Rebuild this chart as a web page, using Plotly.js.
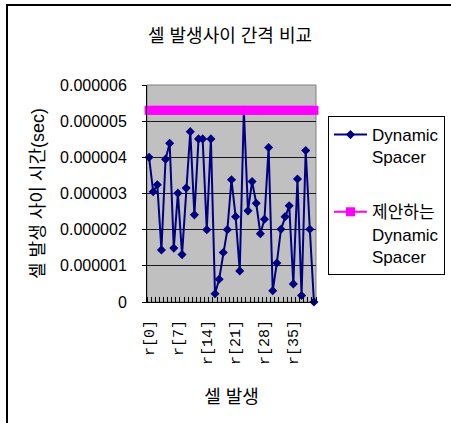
<!DOCTYPE html>
<html>
<head>
<meta charset="utf-8">
<script src="https://cdn.plot.ly/plotly-3.0.1.min.js"></script>
<style>
  html, body { margin: 0; padding: 0; background: #fff; }
  #wrap { position: relative; width: 451px; height: 423px; overflow: hidden; }
  #frame { position: absolute; left: 6px; top: 4px; width: 460px; height: 440px;
           border-left: 2px solid #000; border-top: 2px solid #000; pointer-events: none; z-index: 5; }
  #chart { position: absolute; left: 0; top: 0; width: 451px; height: 423px; }
</style>
</head>
<body>
<div id="wrap">
  <div id="chart"></div>
  <div id="frame"></div>
</div>
<script>
// ---- data ----
const categories = ['r[0]','r[1]','r[2]','r[3]','r[4]','r[5]','r[6]','r[7]','r[8]','r[9]',
  'r[10]','r[11]','r[12]','r[13]','r[14]','r[15]','r[16]','r[17]','r[18]','r[19]',
  'r[20]','r[21]','r[22]','r[23]','r[24]','r[25]','r[26]','r[27]','r[28]','r[29]',
  'r[30]','r[31]','r[32]','r[33]','r[34]','r[35]','r[36]','r[37]','r[38]','r[39]','r[40]'];

const dynamicSpacer = [4.0e-6, 3.05e-6, 3.24e-6, 1.44e-6, 3.95e-6, 4.39e-6, 1.49e-6, 3.01e-6, 1.31e-6, 3.15e-6,
  4.71e-6, 2.41e-6, 4.51e-6, 4.51e-6, 2.0e-6, 4.51e-6, 0.23e-6, 0.63e-6, 1.37e-6, 2.0e-6,
  3.38e-6, 2.36e-6, 0.86e-6, 5.3e-6, 2.52e-6, 3.33e-6, 2.73e-6, 1.89e-6, 2.29e-6, 4.27e-6,
  0.31e-6, 1.08e-6, 2.01e-6, 2.36e-6, 2.66e-6, 0.50e-6, 3.40e-6, 0.18e-6, 4.19e-6, 2.01e-6, 0.0];

const proposedSpacer = [5.3e-6, 5.3e-6, 5.3e-6, 5.3e-6, 5.3e-6, 5.3e-6, 5.3e-6, 5.3e-6, 5.3e-6, 5.3e-6,
  5.3e-6, 5.3e-6, 5.3e-6, 5.3e-6, 5.3e-6, 5.3e-6, 5.3e-6, 5.3e-6, 5.3e-6, 5.3e-6,
  5.3e-6, 5.3e-6, 5.3e-6, 5.3e-6, 5.3e-6, 5.3e-6, 5.3e-6, 5.3e-6, 5.3e-6, 5.3e-6,
  5.3e-6, 5.3e-6, 5.3e-6, 5.3e-6, 5.3e-6, 5.3e-6, 5.3e-6, 5.3e-6, 5.3e-6, 5.3e-6, 5.3e-6];

const xTickCategories = ['r[0]','r[7]','r[14]','r[21]','r[28]','r[35]'];
const yTickVals = [0, 1e-6, 2e-6, 3e-6, 4e-6, 5e-6, 6e-6];
const yTickText = ['0','0.000001','0.000002','0.000003','0.000004','0.000005','0.000006'];

const seriesNames = ['Dynamic<br>Spacer', '제안하는<br>Dynamic<br>Spacer'];
const chartTitle = '셀 발생사이 간격 비교';
const xTitle = '셀 발생';
const yTitle = '셀 발생 사이 시간(sec)';

// ---- build ----
const idx = categories.map((c, i) => i);
const xTickVals = xTickCategories.map(c => categories.indexOf(c));
const FONT = 'Liberation Sans, Arial, "Noto Sans CJK KR", sans-serif';

const traces = [
  {
    x: idx, y: dynamicSpacer, name: seriesNames[0], type: 'scatter', mode: 'lines+markers',
    text: categories, hoverinfo: 'text+y',
    line: { color: '#000080', width: 2 },
    marker: { symbol: 'diamond', size: 7, color: '#000080' },
    cliponaxis: false, legendgroup: 'a'
  },
  {
    x: idx, y: proposedSpacer, name: seriesNames[1], type: 'scatter', mode: 'lines+markers',
    text: categories, hoverinfo: 'text+y',
    line: { color: '#FF00FF', width: 2 },
    marker: { symbol: 'square', size: 9, color: '#FF00FF' },
    cliponaxis: false, legendgroup: 'b'
  }
];

const layout = {
  width: 451, height: 423, autosize: false,
  margin: { l: 147, r: 135, t: 85, b: 121, autoexpand: false },
  paper_bgcolor: '#ffffff',
  plot_bgcolor: '#C0C0C0',
  font: { family: FONT, size: 16, color: '#000' },
  showlegend: true,
  title: {
    text: chartTitle, font: { family: FONT, size: 18, color: '#000' },
    x: 0.51, xref: 'container', xanchor: 'center',
    y: 1 - 36 / 423, yref: 'container', yanchor: 'middle'
  },
  xaxis: {
    type: 'linear', range: [-0.5, 40.5], fixedrange: true,
    tickmode: 'array', tickvals: xTickVals, ticktext: xTickCategories,
    tickangle: -90, ticks: '', ticklabelstandoff: 11,
    tickfont: { family: 'Liberation Mono, DejaVu Sans Mono, monospace', size: 15, color: '#000' },
    showgrid: false, zeroline: false,
    showline: true, linecolor: '#000', linewidth: 1,
    minor: { tickmode: 'linear', tick0: -0.5, dtick: 1, ticks: 'inside', ticklen: 5, tickcolor: '#000', tickwidth: 1, showgrid: false },
    title: { text: xTitle, font: { family: FONT, size: 18, color: '#000' }, standoff: 26 },
    automargin: false
  },
  yaxis: {
    range: [0, 6e-6], fixedrange: true,
    tickmode: 'array', tickvals: yTickVals, ticktext: yTickText,
    ticks: 'outside', ticklen: 4, tickcolor: '#000', ticklabelstandoff: 12,
    tickfont: { family: FONT, size: 16, color: '#000' },
    showgrid: true, gridcolor: '#1a1a1a', gridwidth: 1,
    zeroline: false,
    showline: true, linecolor: '#000', linewidth: 1,
    title: { text: yTitle, font: { family: FONT, size: 18, color: '#000' }, standoff: 10 },
    automargin: false
  },
  shapes: [
    { type: 'rect', xref: 'paper', yref: 'paper', x0: 0, x1: 1, y0: 0, y1: 1,
      line: { color: '#808080', width: 1 }, layer: 'between' }
  ],
  legend: {
    x: 1.071, y: 0.857, xanchor: 'left', yanchor: 'top',
    xref: 'paper', yref: 'paper',
    bgcolor: '#fff', bordercolor: '#000', borderwidth: 1,
    font: { family: FONT, size: 17, color: '#000' },
    valign: 'top', traceorder: 'grouped', tracegroupgap: 30,
    itemwidth: 33
  },
  hovermode: 'closest'
};

Plotly.newPlot('chart', traces, layout, { displayModeBar: false, staticPlot: true });
</script>
</body>
</html>
